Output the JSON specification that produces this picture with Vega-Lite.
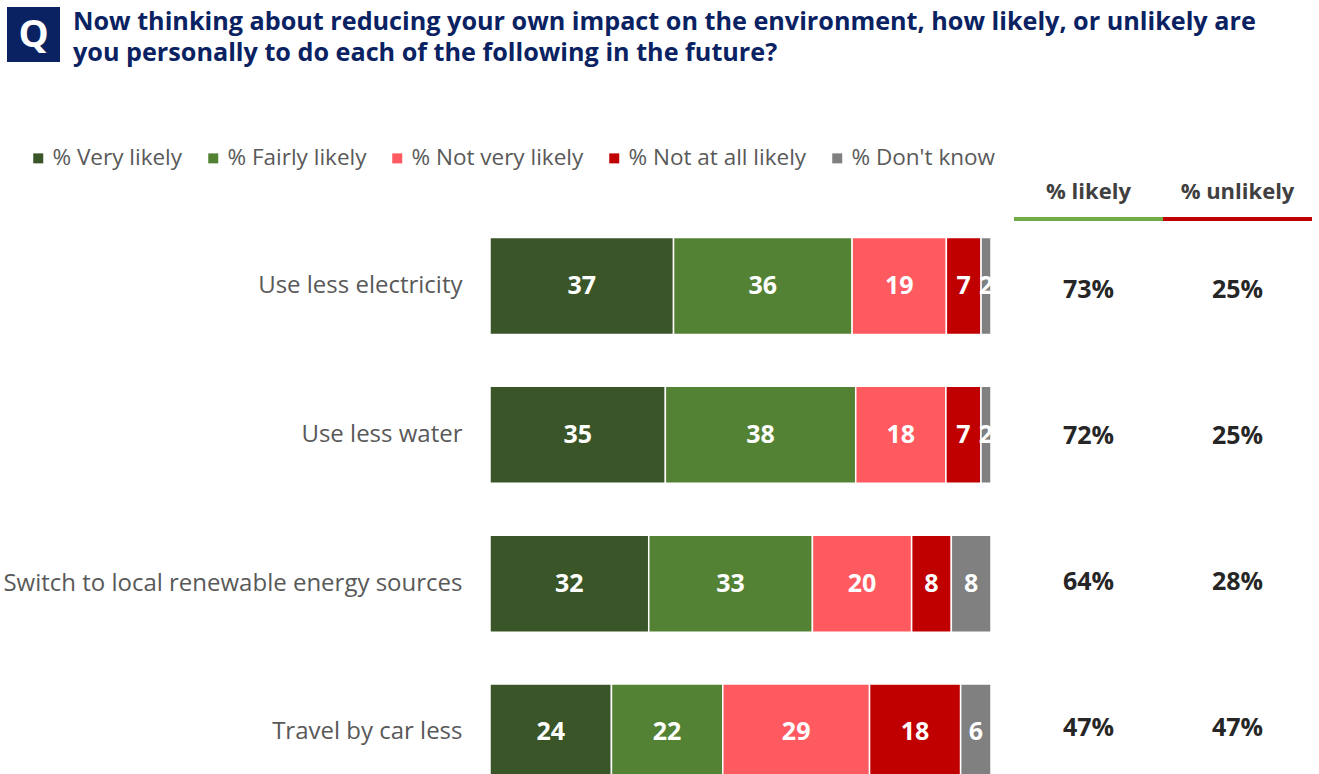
{
  "$schema": "https://vega.github.io/schema/vega-lite/v6.json",
  "padding": {"left": 2, "top": 7, "right": 0, "bottom": 0},
  "background": "white",
  "config": {"view": {"stroke": null}, "font": "Open Sans"},
  "datasets": {
    "responses": [
      {"item": "Use less electricity", "response": "% Very likely", "k": 1, "value": 37},
      {"item": "Use less electricity", "response": "% Fairly likely", "k": 2, "value": 36},
      {"item": "Use less electricity", "response": "% Not very likely", "k": 3, "value": 19},
      {"item": "Use less electricity", "response": "% Not at all likely", "k": 4, "value": 7},
      {"item": "Use less electricity", "response": "% Don't know", "k": 5, "value": 2},
      {"item": "Use less water", "response": "% Very likely", "k": 1, "value": 35},
      {"item": "Use less water", "response": "% Fairly likely", "k": 2, "value": 38},
      {"item": "Use less water", "response": "% Not very likely", "k": 3, "value": 18},
      {"item": "Use less water", "response": "% Not at all likely", "k": 4, "value": 7},
      {"item": "Use less water", "response": "% Don't know", "k": 5, "value": 2},
      {"item": "Switch to local renewable energy sources", "response": "% Very likely", "k": 1, "value": 32},
      {"item": "Switch to local renewable energy sources", "response": "% Fairly likely", "k": 2, "value": 33},
      {"item": "Switch to local renewable energy sources", "response": "% Not very likely", "k": 3, "value": 20},
      {"item": "Switch to local renewable energy sources", "response": "% Not at all likely", "k": 4, "value": 8},
      {"item": "Switch to local renewable energy sources", "response": "% Don't know", "k": 5, "value": 8},
      {"item": "Travel by car less", "response": "% Very likely", "k": 1, "value": 24},
      {"item": "Travel by car less", "response": "% Fairly likely", "k": 2, "value": 22},
      {"item": "Travel by car less", "response": "% Not very likely", "k": 3, "value": 29},
      {"item": "Travel by car less", "response": "% Not at all likely", "k": 4, "value": 18},
      {"item": "Travel by car less", "response": "% Don't know", "k": 5, "value": 6}
    ],
    "summary": [
      {"item": "Use less electricity", "col": "% likely", "pct": 0.73},
      {"item": "Use less electricity", "col": "% unlikely", "pct": 0.25},
      {"item": "Use less water", "col": "% likely", "pct": 0.72},
      {"item": "Use less water", "col": "% unlikely", "pct": 0.25},
      {"item": "Switch to local renewable energy sources", "col": "% likely", "pct": 0.64},
      {"item": "Switch to local renewable energy sources", "col": "% unlikely", "pct": 0.28},
      {"item": "Travel by car less", "col": "% likely", "pct": 0.47},
      {"item": "Travel by car less", "col": "% unlikely", "pct": 0.47}
    ],
    "cols": [{"col": "% likely"}, {"col": "% unlikely"}],
    "q": [{"q": "Q"}]
  },
  "spacing": 80,
  "vconcat": [
    {
      "width": 53,
      "height": 55,
      "data": {"name": "q"},
      "layer": [
        {
          "mark": {"type": "rect", "x": -483, "x2": -430, "y": 0, "y2": 55, "color": "#0A2262"},
          "encoding": {}
        },
        {
          "mark": {"type": "text", "x": -456.5, "y": 28.5, "align": "center", "baseline": "middle", "font": "Open Sans", "fontWeight": "bold", "fontSize": 38, "color": "white"},
          "encoding": {"text": {"field": "q", "type": "nominal"}}
        },
        {
          "mark": {"type": "text", "x": -417, "y": 23, "align": "left", "baseline": "alphabetic", "font": "Open Sans", "fontWeight": "bold", "fontSize": 25.2, "lineHeight": 31, "color": "#0A2262",
            "text": ["Now thinking about reducing your own impact on the environment, how likely, or unlikely are", "you personally to do each of the following in the future?"]},
          "encoding": {}
        }
      ]
    },
    {
      "hconcat": [
        {
          "width": 501,
          "height": 584.5,
          "data": {"name": "responses"},
          "encoding": {
            "y": {"field": "item", "type": "nominal", "sort": null,
              "scale": {"paddingInner": 0.348, "paddingOuter": 0.138},
              "axis": {"title": null, "domain": false, "ticks": false, "labelFont": "Open Sans", "labelFontSize": 24, "labelColor": "#595959", "labelPadding": 28, "labelLimit": 700}}
          },
          "layer": [
            {
              "mark": {"type": "bar", "stroke": "white", "strokeWidth": 1.5},
              "encoding": {
                "x": {"field": "value", "type": "quantitative", "stack": "normalize", "axis": null},
                "color": {"field": "response", "type": "nominal",
                  "scale": {"domain": ["% Very likely", "% Fairly likely", "% Not very likely", "% Not at all likely", "% Don't know"], "range": ["#3A5528", "#548235", "#FF5A5F", "#C00000", "#808080"]},
                  "legend": {"orient": "none", "legendX": -463, "legendY": -70, "direction": "horizontal", "title": null, "symbolType": "square", "symbolSize": 100, "symbolStrokeWidth": 0, "labelFont": "Open Sans", "labelFontSize": 22.5, "labelColor": "#595959", "labelLimit": 400, "columnPadding": 19, "labelOffset": 3, "padding": 0}},
                "order": {"field": "k", "type": "quantitative"}
              }
            },
            {
              "mark": {"type": "text", "color": "white", "font": "Open Sans", "fontWeight": "bold", "fontSize": 25},
              "encoding": {
                "x": {"field": "value", "type": "quantitative", "stack": "normalize", "bandPosition": 0.5},
                "detail": {"field": "response", "type": "nominal"},
                "order": {"field": "k", "type": "quantitative"},
                "text": {"field": "value", "type": "quantitative"}
              }
            }
          ]
        },
        {
          "width": 298,
          "height": 584.5,
          "layer": [
            {
              "data": {"name": "summary"},
              "mark": {"type": "text", "font": "Open Sans", "fontWeight": "bold", "fontSize": 25, "color": "#262626"},
              "encoding": {
                "y": {"field": "item", "type": "nominal", "sort": null, "scale": {"paddingInner": 0.348, "paddingOuter": 0.138}, "axis": null},
                "x": {"field": "col", "type": "nominal", "sort": null, "scale": {"paddingInner": 0, "paddingOuter": 0},
                  "axis": {"orient": "top", "title": null, "domain": false, "ticks": false, "labelAngle": 0, "labelFont": "Open Sans", "labelFontSize": 22, "labelFontWeight": "bold", "labelColor": "#404040", "labelPadding": 14}},
                "text": {"field": "pct", "type": "quantitative", "format": ".0%"}
              }
            },
            {
              "data": {"name": "cols"},
              "mark": {"type": "rect", "y": 0, "y2": 4},
              "encoding": {
                "x": {"field": "col", "type": "nominal", "sort": null},
                "color": {"field": "col", "type": "nominal", "scale": {"domain": ["% likely", "% unlikely"], "range": ["#70AD47", "#C00000"]}, "legend": null}
              }
            }
          ]
        }
      ],
      "spacing": 23,
      "bounds": "flush",
      "resolve": {"scale": {"color": "independent"}, "legend": {"color": "independent"}}
    }
  ]
}
